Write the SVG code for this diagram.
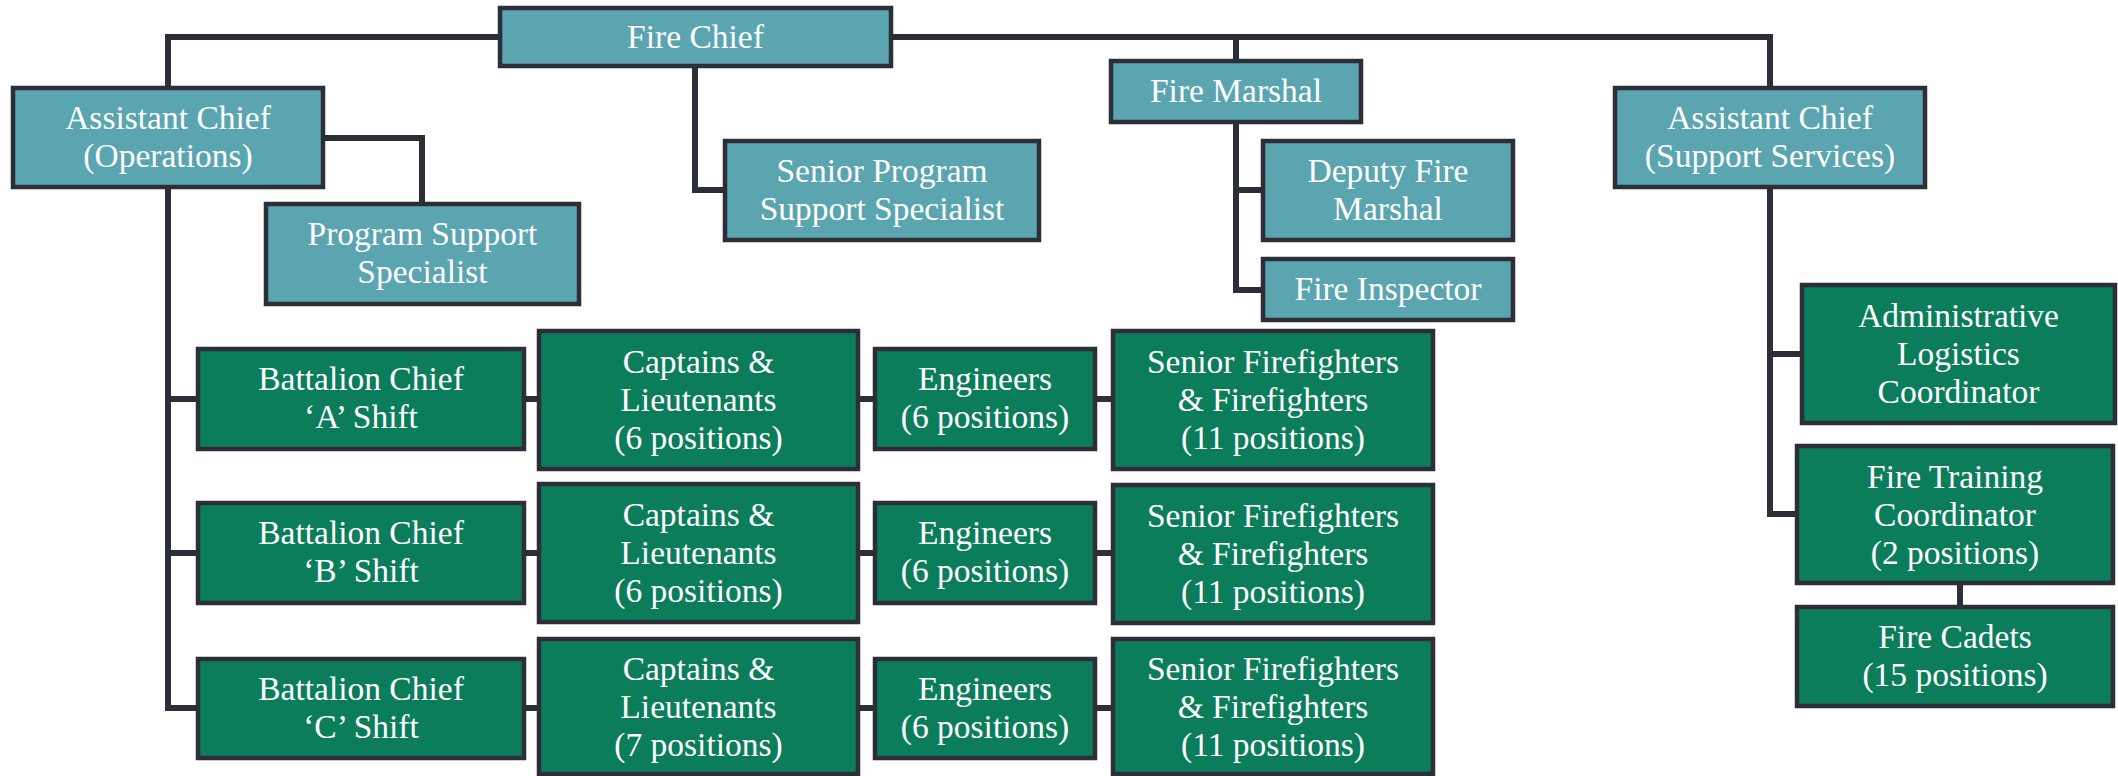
<svg xmlns="http://www.w3.org/2000/svg" width="2118" height="776" viewBox="0 0 2118 776">
<style>
.t{fill:#5AA5AF;stroke:#2C2F37;stroke-width:4.5}
.g{fill:#0B7D5A;stroke:#2C2F37;stroke-width:4.5}
text{font-family:"Liberation Serif","Times New Roman",serif;font-size:33.5px;fill:#ffffff;text-anchor:middle}
#connectors path{fill:none;stroke:#2C2F37;stroke-width:6;stroke-linejoin:miter}
</style>
<rect width="2118" height="776" fill="#ffffff"/>
<g id="connectors">
<path d="M168,88 V37 H1770 V88"/>
<path d="M1236,37 V61"/>
<path d="M323,138 H422 V204"/>
<path d="M695,66 V190 H725"/>
<path d="M1236,122 V290 H1263 M1236,190 H1263"/>
<path d="M1770,187 V514 H1797 M1770,354 H1802"/>
<path d="M1960,583 V607"/>
<path d="M168,187 V708 H198 M168,399 H198 M168,553 H198"/>
<path d="M524,399 H539 M858,399 H875 M1095,399 H1113"/>
<path d="M524,553 H539 M858,553 H875 M1095,553 H1113"/>
<path d="M524,708 H539 M858,708 H875 M1095,708 H1113"/>
</g>
<g id="fire-chief"><rect class="t" x="500" y="8" width="391" height="58"/><text x="695.5" y="48">Fire Chief</text></g>
<g id="asst-chief-ops"><rect class="t" x="13" y="88" width="310" height="99"/><text x="168" y="129">Assistant Chief</text><text x="168" y="167">(Operations)</text></g>
<g id="program-support"><rect class="t" x="266" y="204" width="313" height="100"/><text x="422.5" y="245">Program Support</text><text x="422.5" y="283">Specialist</text></g>
<g id="senior-program-support"><rect class="t" x="725" y="141" width="314" height="99"/><text x="882" y="182">Senior Program</text><text x="882" y="220">Support Specialist</text></g>
<g id="fire-marshal"><rect class="t" x="1111" y="61" width="250" height="61"/><text x="1236" y="102">Fire Marshal</text></g>
<g id="deputy-fire-marshal"><rect class="t" x="1263" y="141" width="250" height="99"/><text x="1388" y="182">Deputy Fire</text><text x="1388" y="220">Marshal</text></g>
<g id="fire-inspector"><rect class="t" x="1263" y="259" width="250" height="61"/><text x="1388" y="300">Fire Inspector</text></g>
<g id="asst-chief-support"><rect class="t" x="1615" y="88" width="310" height="99"/><text x="1770" y="129">Assistant Chief</text><text x="1770" y="167">(Support Services)</text></g>
<g id="admin-logistics"><rect class="g" x="1802" y="285" width="313" height="138"/><text x="1958.5" y="327">Administrative</text><text x="1958.5" y="365">Logistics</text><text x="1958.5" y="403">Coordinator</text></g>
<g id="fire-training"><rect class="g" x="1797" y="446" width="316" height="137"/><text x="1955" y="488">Fire Training</text><text x="1955" y="526">Coordinator</text><text x="1955" y="564">(2 positions)</text></g>
<g id="fire-cadets"><rect class="g" x="1797" y="607" width="316" height="99"/><text x="1955" y="648">Fire Cadets</text><text x="1955" y="686">(15 positions)</text></g>
<g id="bc-a"><rect class="g" x="198" y="349" width="326" height="100"/><text x="361" y="390">Battalion Chief</text><text x="361" y="428">‘A’ Shift</text></g>
<g id="cap-a"><rect class="g" x="539" y="331" width="319" height="138"/><text x="698.5" y="373">Captains &amp;</text><text x="698.5" y="411">Lieutenants</text><text x="698.5" y="449">(6 positions)</text></g>
<g id="eng-a"><rect class="g" x="875" y="349" width="220" height="100"/><text x="985" y="390">Engineers</text><text x="985" y="428">(6 positions)</text></g>
<g id="ff-a"><rect class="g" x="1113" y="331" width="320" height="138"/><text x="1273" y="373">Senior Firefighters</text><text x="1273" y="411">&amp; Firefighters</text><text x="1273" y="449">(11 positions)</text></g>
<g id="bc-b"><rect class="g" x="198" y="503" width="326" height="100"/><text x="361" y="544">Battalion Chief</text><text x="361" y="582">‘B’ Shift</text></g>
<g id="cap-b"><rect class="g" x="539" y="484" width="319" height="138"/><text x="698.5" y="526">Captains &amp;</text><text x="698.5" y="564">Lieutenants</text><text x="698.5" y="602">(6 positions)</text></g>
<g id="eng-b"><rect class="g" x="875" y="503" width="220" height="100"/><text x="985" y="544">Engineers</text><text x="985" y="582">(6 positions)</text></g>
<g id="ff-b"><rect class="g" x="1113" y="485" width="320" height="138"/><text x="1273" y="527">Senior Firefighters</text><text x="1273" y="565">&amp; Firefighters</text><text x="1273" y="603">(11 positions)</text></g>
<g id="bc-c"><rect class="g" x="198" y="659" width="326" height="99"/><text x="361" y="700">Battalion Chief</text><text x="361" y="738">‘C’ Shift</text></g>
<g id="cap-c"><rect class="g" x="539" y="639" width="319" height="135"/><text x="698.5" y="680">Captains &amp;</text><text x="698.5" y="718">Lieutenants</text><text x="698.5" y="756">(7 positions)</text></g>
<g id="eng-c"><rect class="g" x="875" y="659" width="220" height="99"/><text x="985" y="700">Engineers</text><text x="985" y="738">(6 positions)</text></g>
<g id="ff-c"><rect class="g" x="1113" y="639" width="320" height="135"/><text x="1273" y="680">Senior Firefighters</text><text x="1273" y="718">&amp; Firefighters</text><text x="1273" y="756">(11 positions)</text></g>
</svg>
